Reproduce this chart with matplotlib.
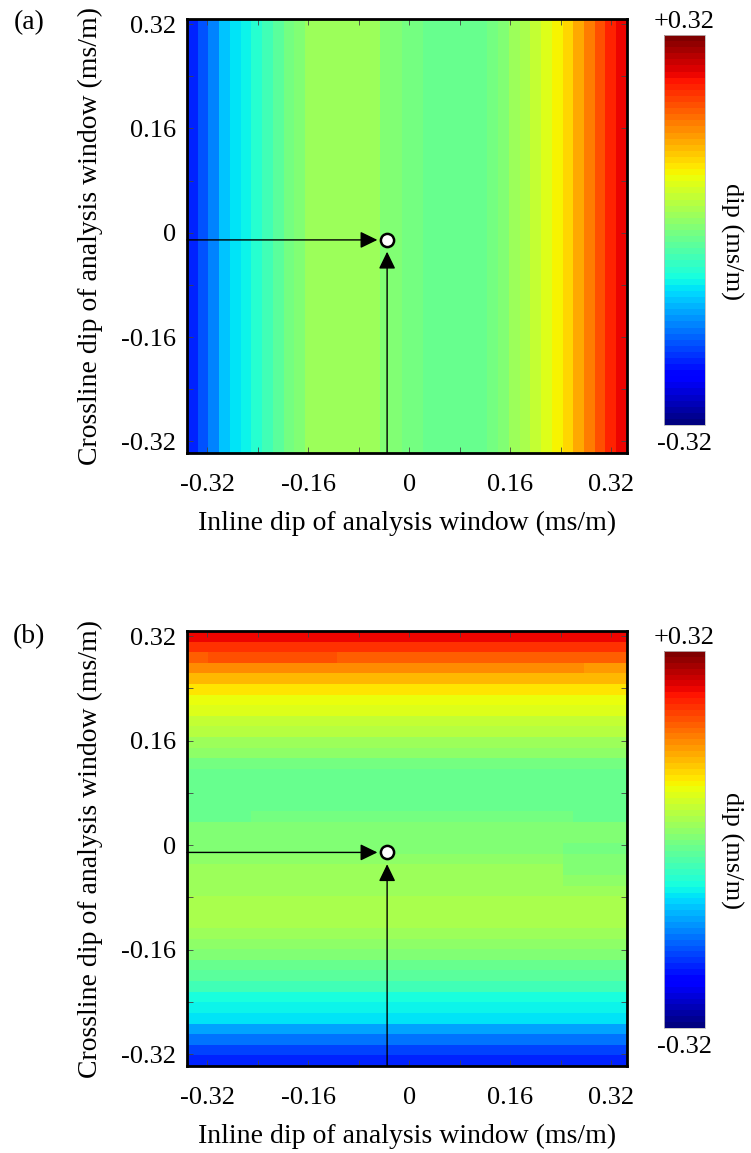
import matplotlib
matplotlib.use("Agg")
import matplotlib.pyplot as plt
import numpy as np

plt.rcParams['font.family'] = ['Liberation Serif', 'DejaVu Serif']

# dip scan grid: 41 x 41 cells between the axis limits
x_lim = (-0.352, 0.345)
y_lim = (-0.338, 0.328)
tick_vals = [-0.32, -0.16, 0, 0.16, 0.32]
tick_text = ['-0.32', '-0.16', '0', '0.16', '0.32']
minor_vals = [-0.24, -0.08, 0.08, 0.24]

# (a) measured dip per inline column, left to right (ms/m)
dip_a_cols = [-0.215, -0.187, -0.152, -0.118, -0.099, -0.088, -0.065, -0.042,
              -0.026, -0.010, 0.005, 0.021, 0.021, 0.021, 0.021, 0.021,
              0.021, 0.021, 0.005, 0.005, -0.002, -0.002, -0.019, -0.019,
              -0.019, -0.019, -0.019, -0.019, -0.010, 0.005, 0.021, 0.036,
              0.056, 0.079, 0.096, 0.116, 0.147, 0.171, 0.202, 0.232, 0.256]

# (b) measured dip per crossline row, top to bottom (ms/m)
dip_b_rows = [0.250, 0.222, 0.191, 0.168, 0.137, 0.103, 0.089, 0.071,
              0.052, 0.040, 0.028, 0.013, -0.002, -0.016, -0.019, -0.019,
              -0.019, -0.010, 0.002, 0.002, 0.008, 0.016, 0.028, 0.028,
              0.028, 0.030, 0.030, 0.032, 0.024, 0.013, 0.002, -0.014,
              -0.029, -0.049, -0.072, -0.088, -0.099, -0.133, -0.168,
              -0.196, -0.218]

# (b) cells that differ from their row: (row, first col, last col, dip)
dip_b_patches = [(1, 2, 12, 0.228), (2, 2, 13, 0.202), (3, 37, 40, 0.152),
                 (17, 0, 5, -0.019), (17, 36, 40, -0.019),
                 (20, 35, 40, -0.002), (21, 35, 40, 0.005),
                 (22, 35, 40, 0.005), (23, 35, 40, 0.016)]

# estimated dip of the analysis window
est_x, est_y = -0.035, -0.011

grid_a = np.tile(np.array(dip_a_cols), (41, 1))
grid_b = np.tile(np.array(dip_b_rows)[:, None], (1, 41))
for r, c0, c1, v in dip_b_patches:
    grid_b[r, c0:c1 + 1] = v

cmap = plt.get_cmap('jet', 64)
W, H = 751, 1153


def box(left, top, right, bottom):
    return [left / W, 1 - bottom / H, (right - left) / W, (bottom - top) / H]


fig = plt.figure(figsize=(W / 100, H / 100), dpi=100)

panels = [
    (grid_a, box(187, 19, 627, 453), box(664, 35, 705, 425), '(a)', 23),
    (grid_b, box(187, 631, 627, 1066), box(664, 651, 705, 1028), '(b)', 637),
]

for grid, ax_box, cb_box, tag, tag_y in panels:
    ax = fig.add_axes(ax_box)
    im = ax.imshow(grid, cmap=cmap, vmin=-0.32, vmax=0.32, origin='upper',
                   extent=(x_lim[0], x_lim[1], y_lim[0], y_lim[1]),
                   aspect='auto', interpolation='nearest')
    ax.set_xlim(x_lim)
    ax.set_ylim(y_lim)
    ax.set_xticks(tick_vals)
    ax.set_xticklabels(tick_text)
    ax.set_yticks(tick_vals)
    ax.set_yticklabels(tick_text)
    ax.set_xticks(minor_vals, minor=True)
    ax.set_yticks(minor_vals, minor=True)
    ax.tick_params(which='both', direction='in', top=True, right=True,
                   length=4, width=0.6, color='#444444')
    ax.tick_params(axis='x', labelsize=19, pad=15)
    ax.tick_params(axis='y', labelsize=19, pad=8)
    for s in ax.spines.values():
        s.set_linewidth(2)

    ax.set_xlabel('Inline dip of analysis window (ms/m)', fontsize=20,
                  labelpad=11)
    ax.set_ylabel('Crossline dip of analysis window (ms/m)', fontsize=20,
                  labelpad=13)

    # arrows pointing at the estimate
    style = '-|>,head_length=0.7,head_width=0.34'
    ax.annotate('', xy=(est_x, est_y), xytext=(x_lim[0], est_y),
                arrowprops=dict(arrowstyle=style, color='k', lw=1,
                                mutation_scale=15, shrinkA=0, shrinkB=7))
    ax.annotate('', xy=(est_x, est_y), xytext=(est_x, y_lim[0]),
                arrowprops=dict(arrowstyle=style, color='k', lw=1,
                                mutation_scale=15, shrinkA=0, shrinkB=8.5))
    ax.plot(est_x, est_y, 'o', ms=9.5, mfc='white', mec='black', mew=1.8,
            zorder=5)

    cax = fig.add_axes(cb_box)
    cb = fig.colorbar(im, cax=cax, ticks=[])
    cb.outline.set_edgecolor('#bbbbbb')
    cb.outline.set_linewidth(0.6)
    cax.text(0.5, 1.005, '+0.32', transform=cax.transAxes, ha='center',
             va='bottom', fontsize=19)
    cax.text(0.5, -0.02, '-0.32', transform=cax.transAxes, ha='center',
             va='top', fontsize=19)
    cax.text(1.65, 0.47, 'dip (ms/m)', transform=cax.transAxes, ha='center',
             va='center', rotation=270, fontsize=19)

    fig.text(29 / W, 1 - tag_y / H, tag, ha='center', va='center', fontsize=20)

fig.savefig('out.png', dpi=100)
